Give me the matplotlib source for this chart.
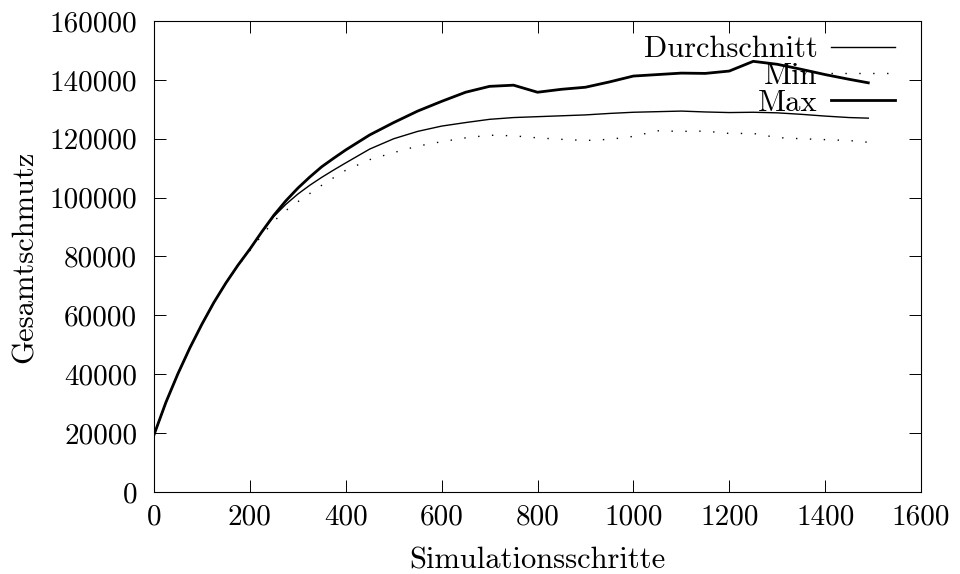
import matplotlib
matplotlib.use("Agg")
import matplotlib.pyplot as plt

plt.rcParams['font.family'] = ['cmr10', 'DejaVu Serif']
plt.rcParams['axes.formatter.use_mathtext'] = True

# Simulationsschritte
steps = [0, 25, 50, 75, 100, 125, 150, 175, 200, 225, 250, 275, 300, 325, 350, 375, 400,
         450, 500, 550, 600, 650, 700, 750, 800, 850, 900, 950, 1000, 1050, 1100, 1150,
         1200, 1250, 1300, 1350, 1400, 1450, 1490]

# Gesamtschmutz values
avg_dirt = [19400, 30500, 40200, 49000, 57000, 64400, 71000, 77000, 82500, 88300, 93600,
            97700, 101200, 104200, 106900, 109400, 111800,
            116500, 120000, 122500, 124300, 125500, 126600, 127200, 127500, 127800, 128100,
            128600, 129000, 129200, 129400, 129100, 128900, 129000, 128800, 128300, 127700,
            127200, 127000]
min_dirt = [19400, 30500, 40200, 49000, 57000, 64400, 71000, 76800, 82000, 87200, 92000,
            95600, 98600, 101400, 104200, 106800, 109300,
            112900, 115300, 117500, 119000, 120300, 121200, 121000, 120300, 119800, 119400,
            119800, 120800, 122700, 122500, 122600, 121800, 121800, 120400, 120000, 119700,
            119400, 118800]
max_dirt = [19400, 30500, 40200, 49000, 57000, 64400, 71000, 77000, 82500, 88400, 94000,
            98900, 103200, 107000, 110500, 113400, 116200,
            121300, 125500, 129400, 132700, 135800, 137800, 138200, 135800, 136800, 137500,
            139300, 141300, 141800, 142300, 142200, 143000, 146300, 145300, 143600, 141800,
            140200, 139000]

fig = plt.figure(figsize=(9.6, 5.74), dpi=100)
ax = fig.add_axes([0.1604, 0.1429, 0.7990, 0.8205])

ax.plot(steps, avg_dirt, color='black', linewidth=1.0, label='Durchschnitt')
ax.plot(steps, min_dirt, color='black', linewidth=1.0, linestyle=(0, (1, 9)), label='Min')
ax.plot(steps, max_dirt, color='black', linewidth=2.0, label='Max')

ax.set_xlim(0, 1600)
ax.set_ylim(0, 160000)
ax.set_xticks(range(0, 1601, 200))
ax.set_yticks(range(0, 160001, 20000))
ax.set_xticklabels([str(v) for v in range(0, 1601, 200)])
ax.set_yticklabels([str(v) for v in range(0, 160001, 20000)])

ax.tick_params(direction='in', length=8.6, width=0.7, labelsize=21,
               top=True, right=True)
ax.tick_params(axis='y', pad=12)
ax.tick_params(axis='x', pad=9)
for sp in ax.spines.values():
    sp.set_linewidth(0.8)

ax.set_xlabel('Simulationsschritte', fontsize=22, labelpad=12)
ax.set_ylabel('Gesamtschmutz', fontsize=22, labelpad=8)

leg = ax.legend(loc='upper right', frameon=False, markerfirst=False, fontsize=22,
                handlelength=2.1, handletextpad=0.43, labelspacing=-0.03,
                borderaxespad=0.0, bbox_to_anchor=(0.982, 0.994))
for t in leg.get_texts():
    t.set_ha('right')

fig.savefig('out.png', dpi=100)
